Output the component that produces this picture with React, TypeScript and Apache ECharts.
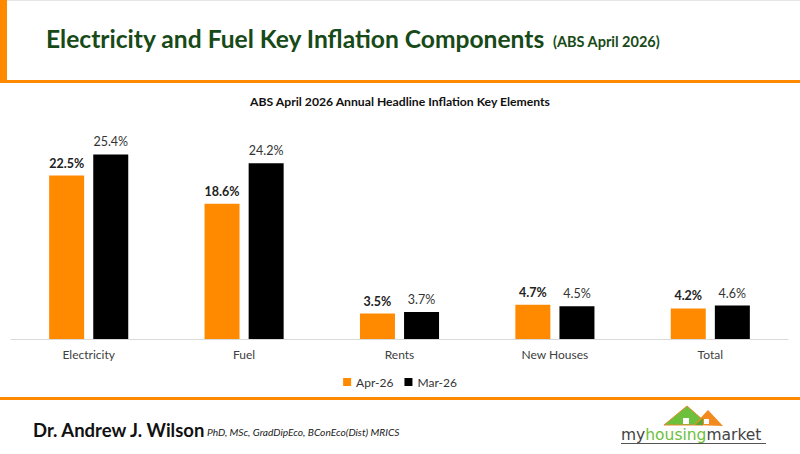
import React, { useEffect, useRef } from "react";
import * as echarts from "echarts";

const categories = ["Electricity", "Fuel", "Rents", "New Houses", "Total"];
const apr26 = [22.5, 18.6, 3.5, 4.7, 4.2];
const mar26 = [25.4, 24.2, 3.7, 4.5, 4.6];
const seriesNames = ["Apr-26", "Mar-26"];

const ORANGE = "#FF8A00";
const GREEN_TITLE = "#174a17";
const FONT = "Lato, 'Open Sans', sans-serif";

export default function App() {
  const ref = useRef<HTMLDivElement>(null);
  useEffect(() => {
    if (!ref.current) return;
    const chart = echarts.init(ref.current, null, { renderer: "svg" });
    const option: any = {
      animation: false,
      backgroundColor: "#ffffff",
      title: {
        text: "ABS April 2026 Annual Headline Inflation Key Elements",
        left: "center",
        top: 90,
        textStyle: { fontFamily: FONT, fontSize: 12.2, fontWeight: "bold", color: "#111" },
      },
      legend: {
        data: seriesNames,
        left: "center",
        top: 371,
        itemWidth: 8,
        itemHeight: 8,
        itemGap: 11,
        icon: "rect",
        textStyle: { fontFamily: FONT, fontSize: 12, color: "#333" },
      },
      grid: { left: 11, right: 12, top: 121, bottom: 115, containLabel: false },
      xAxis: {
        type: "category",
        data: categories,
        axisLine: { lineStyle: { color: "#d9d9d9", width: 1 } },
        axisTick: { show: false },
        axisLabel: { fontFamily: FONT, fontSize: 12, color: "#404040", margin: 9 },
      },
      yAxis: {
        type: "value",
        min: 0,
        max: 30,
        show: false,
        splitLine: { show: false },
      },
      series: [
        {
          name: seriesNames[0],
          type: "bar",
          data: apr26,
          barWidth: 35,
          barGap: "26%",
          itemStyle: { color: ORANGE },
          label: {
            show: true,
            position: "top",
            distance: 6,
            formatter: (p: any) => p.value.toFixed(1) + "%",
            fontFamily: FONT,
            fontSize: 12.5,
            fontWeight: "bold",
            color: "#222",
          },
        },
        {
          name: seriesNames[1],
          type: "bar",
          data: mar26,
          barWidth: 35,
          barGap: "26%",
          itemStyle: { color: "#000000" },
          label: {
            show: true,
            position: "top",
            distance: 6,
            formatter: (p: any) => p.value.toFixed(1) + "%",
            fontFamily: FONT,
            fontSize: 12.5,
            color: "#333",
          },
        },
      ],
      graphic: [
        { type: "rect", shape: { x: 0, y: 0, width: 800, height: 1 }, style: { fill: "#e6e6e6" } },
        { type: "rect", shape: { x: 0, y: 0, width: 7, height: 82 }, style: { fill: ORANGE } },
        { type: "rect", shape: { x: 0, y: 80, width: 800, height: 3 }, style: { fill: ORANGE } },
        {
          type: "text",
          x: 46,
          y: 38,
          style: {
            text: "Electricity and Fuel Key Inflation Components",
            fontFamily: FONT,
            fontSize: 24.6,
            fontWeight: "bold",
            fill: GREEN_TITLE,
            verticalAlign: "middle",
          },
        },
        {
          type: "text",
          x: 553,
          y: 41,
          style: {
            text: "(ABS April 2026)",
            fontFamily: FONT,
            fontSize: 14.5,
            fontWeight: "bold",
            fill: GREEN_TITLE,
            verticalAlign: "middle",
          },
        },
        { type: "rect", shape: { x: 0, y: 397, width: 800, height: 3 }, style: { fill: ORANGE } },
        {
          type: "text",
          x: 33,
          y: 430,
          style: {
            text: "Dr. Andrew J. Wilson",
            fontFamily: FONT,
            fontSize: 18.5,
            fontWeight: "bold",
            fill: "#111",
            verticalAlign: "middle",
          },
        },
        {
          type: "text",
          x: 207,
          y: 432,
          style: {
            text: "PhD, MSc, GradDipEco, BConEco(Dist) MRICS",
            fontFamily: FONT,
            fontSize: 10.2,
            fontStyle: "italic",
            fill: "#222",
            verticalAlign: "middle",
          },
        },
        // logo houses
        {
          type: "polygon",
          shape: { points: [[664, 425], [687, 406], [703, 420], [703, 425]] },
          style: { fill: "#6cc03c", stroke: "#e8892a", lineWidth: 1 },
        },
        {
          type: "polygon",
          shape: { points: [[694, 425], [708, 410], [723, 426]] },
          style: { fill: "#f28a1e" },
        },
        {
          type: "polygon",
          shape: { points: [[695, 425], [703, 418], [703, 425]] },
          style: { fill: "#5aa83a" },
        },
        { type: "rect", shape: { x: 683, y: 418, width: 6, height: 6 }, style: { fill: "#ffffff" } },
        { type: "rect", shape: { x: 704, y: 419, width: 5, height: 5 }, style: { fill: "#ffffff" } },
        {
          type: "text",
          x: 621,
          y: 435,
          style: {
            text: "{a|my}{b|housing}{a|market}",
            fontFamily: "DejaVu Sans, sans-serif",
            verticalAlign: "middle",
            rich: {
              a: { fontFamily: "DejaVu Sans, sans-serif", fontSize: 15.5, fill: "#444" },
              b: { fontFamily: "DejaVu Sans, sans-serif", fontSize: 15.5, fill: "#6cc03c" },
            },
          },
        },
        { type: "rect", shape: { x: 621, y: 443, width: 145, height: 1 }, style: { fill: "#555" } },
      ],
    };
    chart.setOption(option);
    return () => chart.dispose();
  }, []);
  return (
    <div
      ref={ref}
      style={{ position: "absolute", left: 0, top: 0, width: 800, height: 454 }}
    />
  );
}
